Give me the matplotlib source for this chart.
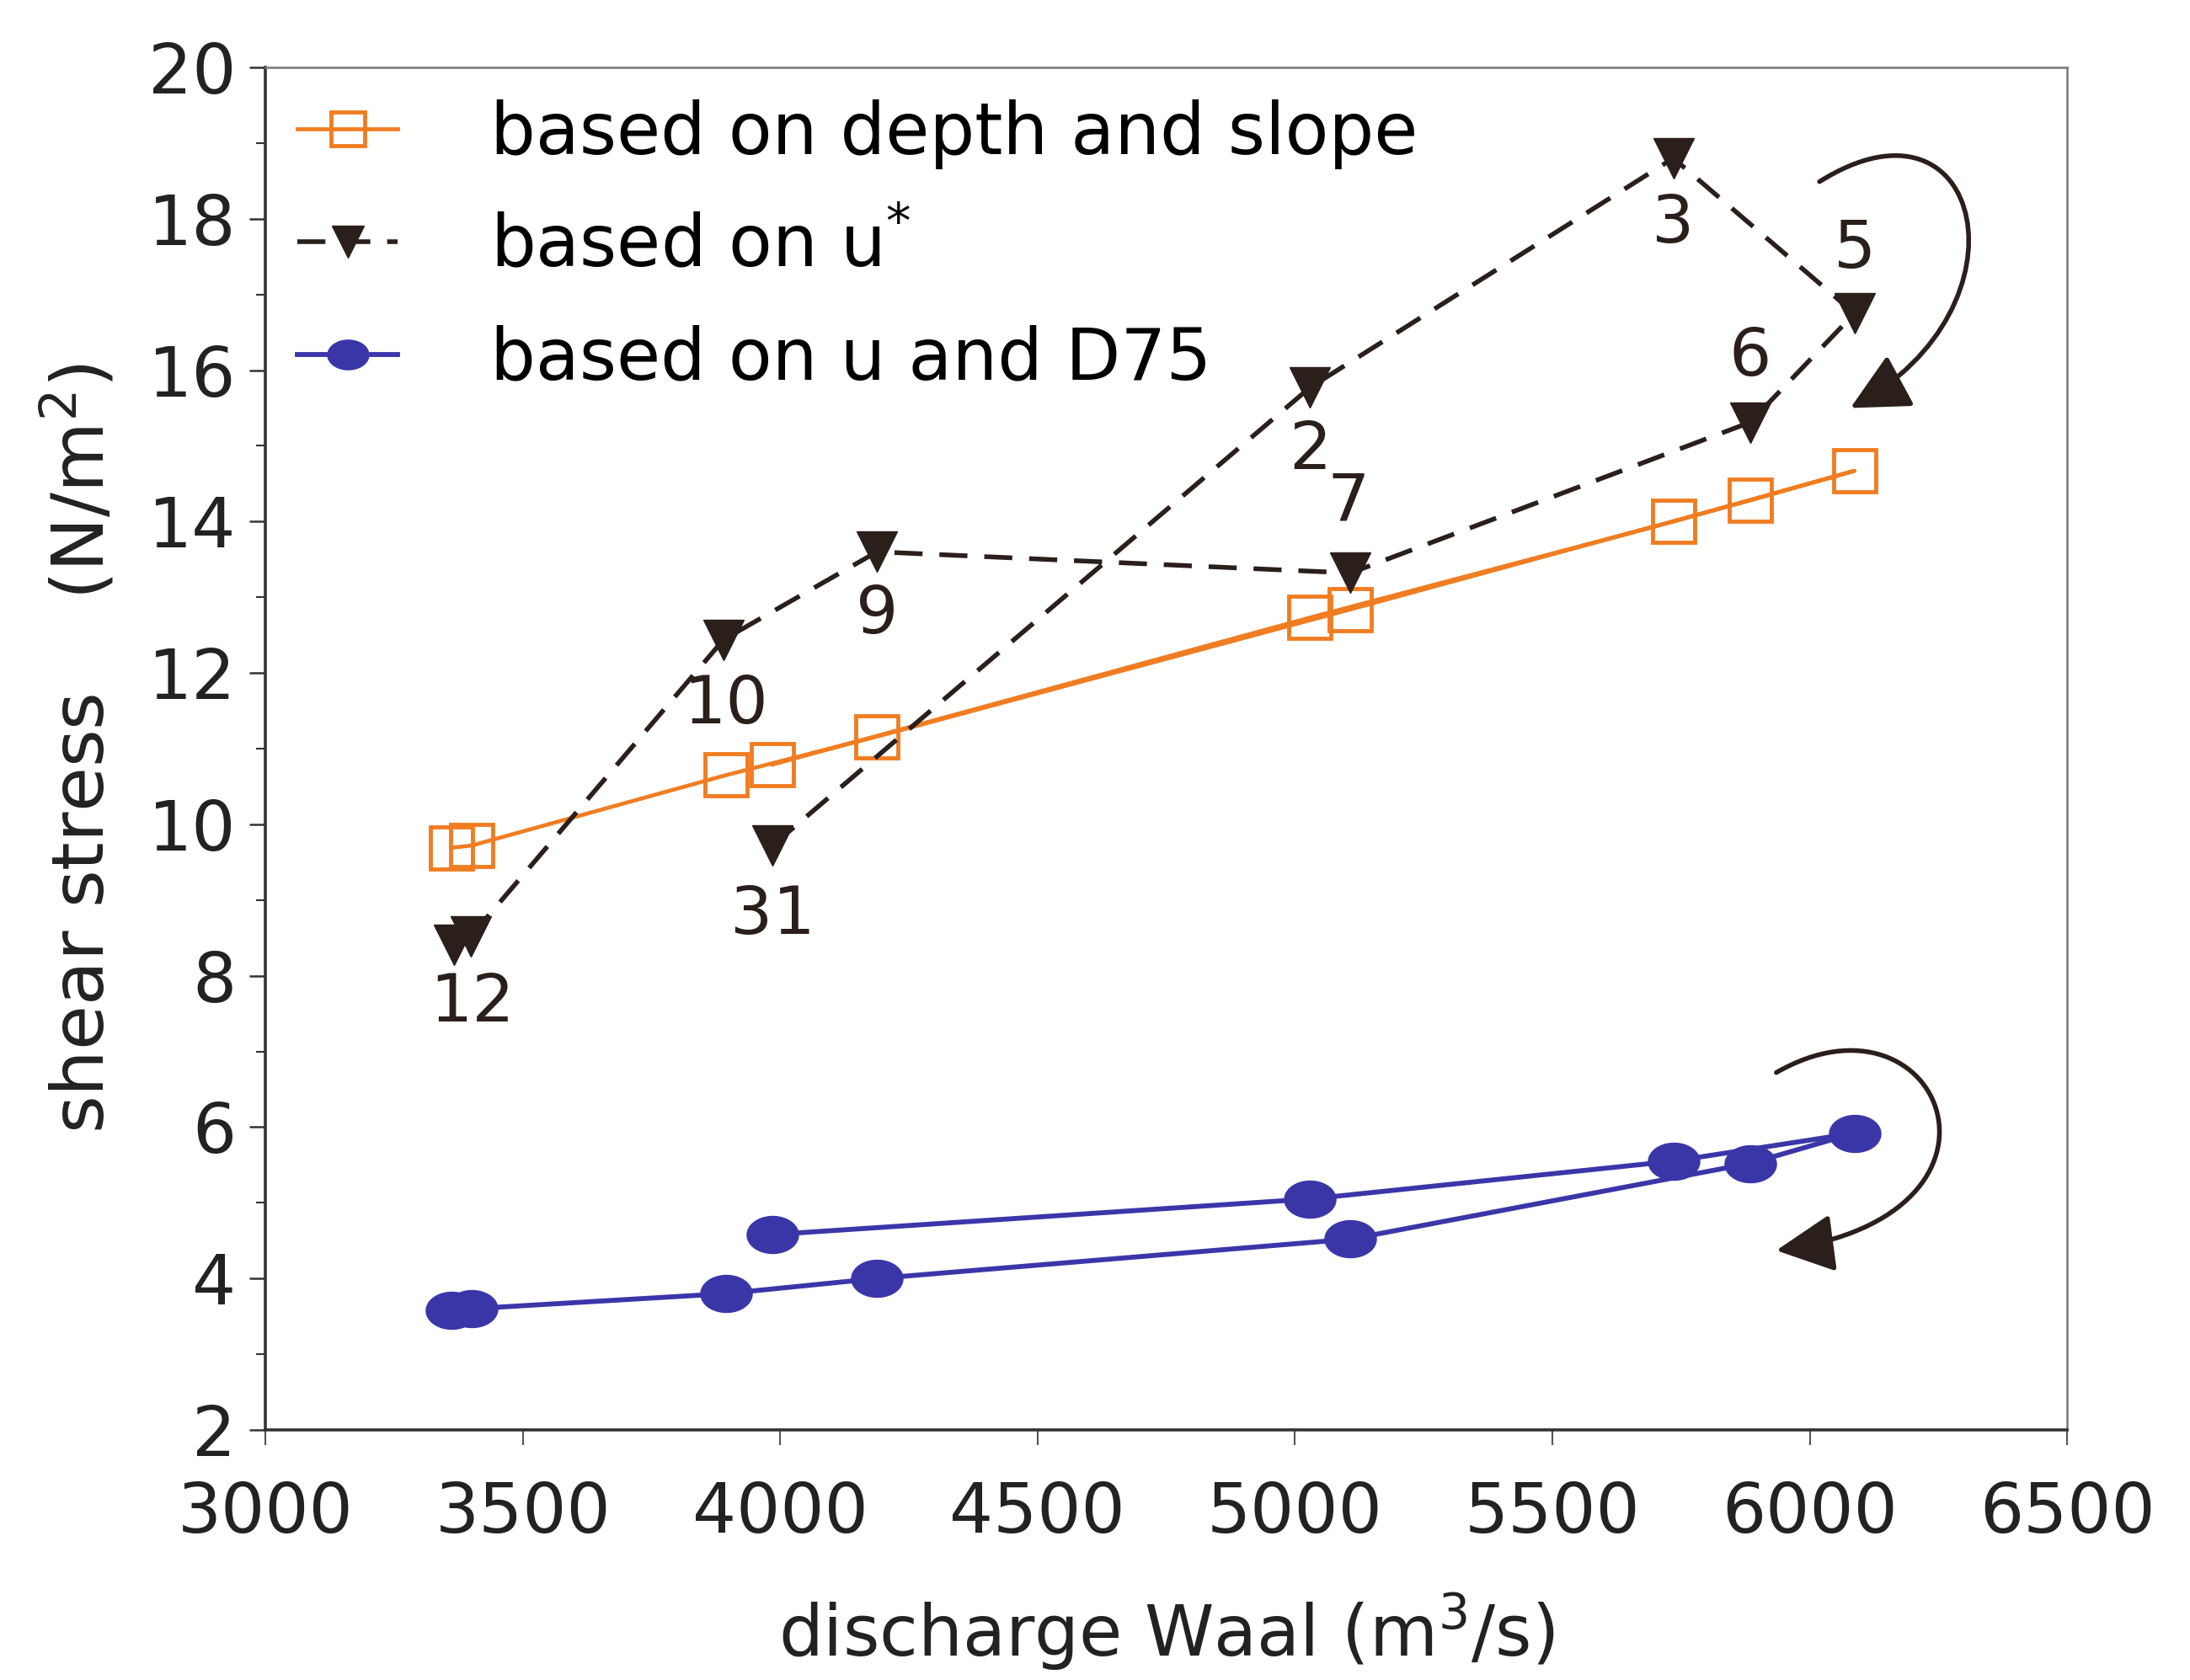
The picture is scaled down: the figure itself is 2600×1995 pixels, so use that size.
import numpy as np
import matplotlib
matplotlib.use("Agg")
import matplotlib.pyplot as plt
from matplotlib.path import Path
from matplotlib.patches import FancyArrowPatch
from matplotlib.markers import MarkerStyle

# measurements, in sampling order
discharge = [3985, 5029, 5735, 6087, 5884, 5108, 4188, 3895, 3401, 3361]
tau_depth_slope = [10.79, 12.73, 14.00, 14.67, 14.28, 12.84, 11.16, 10.65, 9.72, 9.69]
tau_ustar_x = [3985, 5029, 5735, 6087, 5884, 5108, 4188, 3890, 3399, 3366]
tau_ustar = [9.72, 15.77, 18.80, 16.75, 15.31, 13.32, 13.60, 12.44, 8.52, 8.41]
tau_u_d75 = [4.58, 5.05, 5.55, 5.92, 5.52, 4.52, 4.00, 3.80, 3.60, 3.58]
point_labels = ['31', '2', '3', '5', '6', '7', '9', '10', '12', '']

orange = '#f07d22'
dark = '#2a1f1b'
blue = '#3b36a8'
fs = 57

plt.rcParams['font.family'] = ['DejaVu Sans']

fig = plt.figure(figsize=(26, 19.95), dpi=100)
ax = fig.add_axes([0.1212, 0.1489, 0.8227, 0.8110])

# ellipse marker for the blue series
t = np.linspace(0, 2 * np.pi, 60)
ell = Path(np.column_stack([np.cos(t), 0.72 * np.sin(t)]), closed=True)

ax.plot(discharge, tau_depth_slope, color=orange, lw=3.4, marker='s', ms=36,
        mfc='none', mec=orange, mew=3.5, label='based on depth and slope', zorder=3)
ax.plot(tau_ustar_x, tau_ustar, color=dark, lw=4, ls=(0, (6, 3.6)), marker='v', ms=34,
        mfc=dark, mec=dark, label='based on u$^{*}$', zorder=4)
ax.plot(discharge, tau_u_d75, color=blue, lw=4.2, marker=MarkerStyle(ell), ms=44,
        mfc=blue, mec=blue, label='based on u and D75', zorder=3)

offsets = [(0, -60), (0, -54), (0, -56), (0, 55), (0, 56), (-2, 60), (0, -54), (2, -56), (1, -57), (0, 0)]
for x, y, s, off in zip(tau_ustar_x, tau_ustar, point_labels, offsets):
    if s:
        ax.annotate(s, (x, y), xytext=off, textcoords='offset points',
                    ha='center', va='center', fontsize=fs, color=dark)

# curved arrows showing the hysteresis direction
for pts in ([(6019, 18.49), (6337, 19.85), (6440, 16.83), (6079, 15.50)],
            [(5935, 6.72), (6255, 7.97), (6445, 4.83), (5935, 4.37)]):
    p = Path(pts, [Path.MOVETO, Path.CURVE4, Path.CURVE4, Path.CURVE4])
    ax.add_patch(FancyArrowPatch(path=p, arrowstyle='-|>,head_length=1.7,head_width=0.85',
                                 color=dark, lw=4, mutation_scale=25, zorder=5))

ax.set_xlim(3000, 6500)
ax.set_ylim(2, 20)
ax.set_xticks(np.arange(3000, 6501, 500))
ax.set_yticks(np.arange(2, 21, 2))
ax.set_yticks(np.arange(3, 20, 2), minor=True)
ax.tick_params(axis='y', which='major', direction='out', length=14, width=1.8,
               labelsize=59, pad=11, colors='#333333', labelcolor='#222222')
ax.tick_params(axis='y', which='minor', direction='out', length=8, width=1.5, colors='#333333')
ax.tick_params(axis='x', which='major', direction='out', length=13, width=1.5,
               labelsize=59, pad=30, colors='#555555', labelcolor='#222222')

for side in ('left', 'bottom'):
    ax.spines[side].set_color('#333333')
    ax.spines[side].set_linewidth(2.6)
for side in ('top', 'right'):
    ax.spines[side].set_color('#777777')
    ax.spines[side].set_linewidth(1.8)

ax.set_xlabel('discharge Waal (m$^3$/s)', fontsize=60, color='#222222', labelpad=38)
ax.set_ylabel('shear stress    (N/m$^2$)', fontsize=62, color='#222222', labelpad=24)

ax.legend(loc='upper left', bbox_to_anchor=(0.0, 1.0), frameon=False, fontsize=61,
          handlelength=1.4, handletextpad=1.3, labelspacing=0.6, markerscale=0.8,
          borderaxespad=0.25, borderpad=0.2)

fig.savefig('out.png', dpi=100, facecolor='white')
